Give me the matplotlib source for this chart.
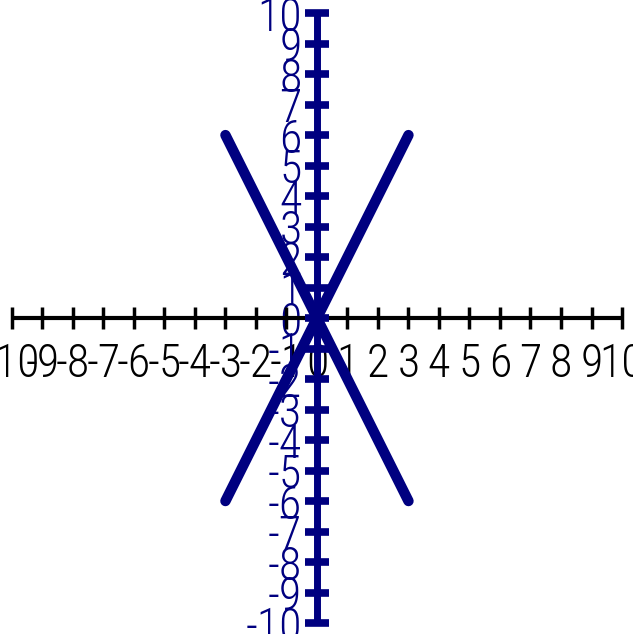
import matplotlib.pyplot as plt
import numpy as np

# tick values on both axes
x_ticks = list(range(-10, 11))
y_ticks = list(range(-10, 11))

# the two lines, end points only
line_a_x = [-3, 3]
line_a_y = [-6, 6]
line_b_x = [-3, 3]
line_b_y = [6, -6]

navy = '#000080'
font = ['Liberation Sans Narrow', 'Roboto Condensed', 'Roboto', 'DejaVu Sans']

fig = plt.figure(figsize=(6.33, 6.34), dpi=100)
ax = fig.add_axes([0, 0, 1, 1])
ax.set_xlim(-10.39, 10.36)
ax.set_ylim(-10.36, 10.43)
ax.axis('off')

# x axis (black) with ticks
ax.plot([x_ticks[0], x_ticks[-1]], [0, 0], color='black', lw=3, solid_capstyle='butt', zorder=2)
ax.vlines(x_ticks, -0.36, 0.36, color='black', lw=2.5, zorder=2)
for t in x_ticks:
    ax.text(t, -1.5, str(t), ha='center', va='center', fontsize=33,
            family=font, weight='light', color='black', zorder=1)

# y axis (navy) with ticks
ax.plot([0, 0], [y_ticks[0], y_ticks[-1]], color=navy, lw=5, solid_capstyle='butt', zorder=3)
ax.hlines(y_ticks, -0.38, 0.38, color=navy, lw=5.5, zorder=3)
for t in y_ticks:
    ax.text(-0.5, t - 0.15, str(t), ha='right', va='center', fontsize=33,
            family=font, weight='light', color=navy, zorder=1)

# the lines
ax.plot(line_a_x, line_a_y, color=navy, lw=7.5, solid_capstyle='round', zorder=4)
ax.plot(line_b_x, line_b_y, color=navy, lw=7.5, solid_capstyle='round', zorder=4)

fig.savefig('out.png', dpi=100)
